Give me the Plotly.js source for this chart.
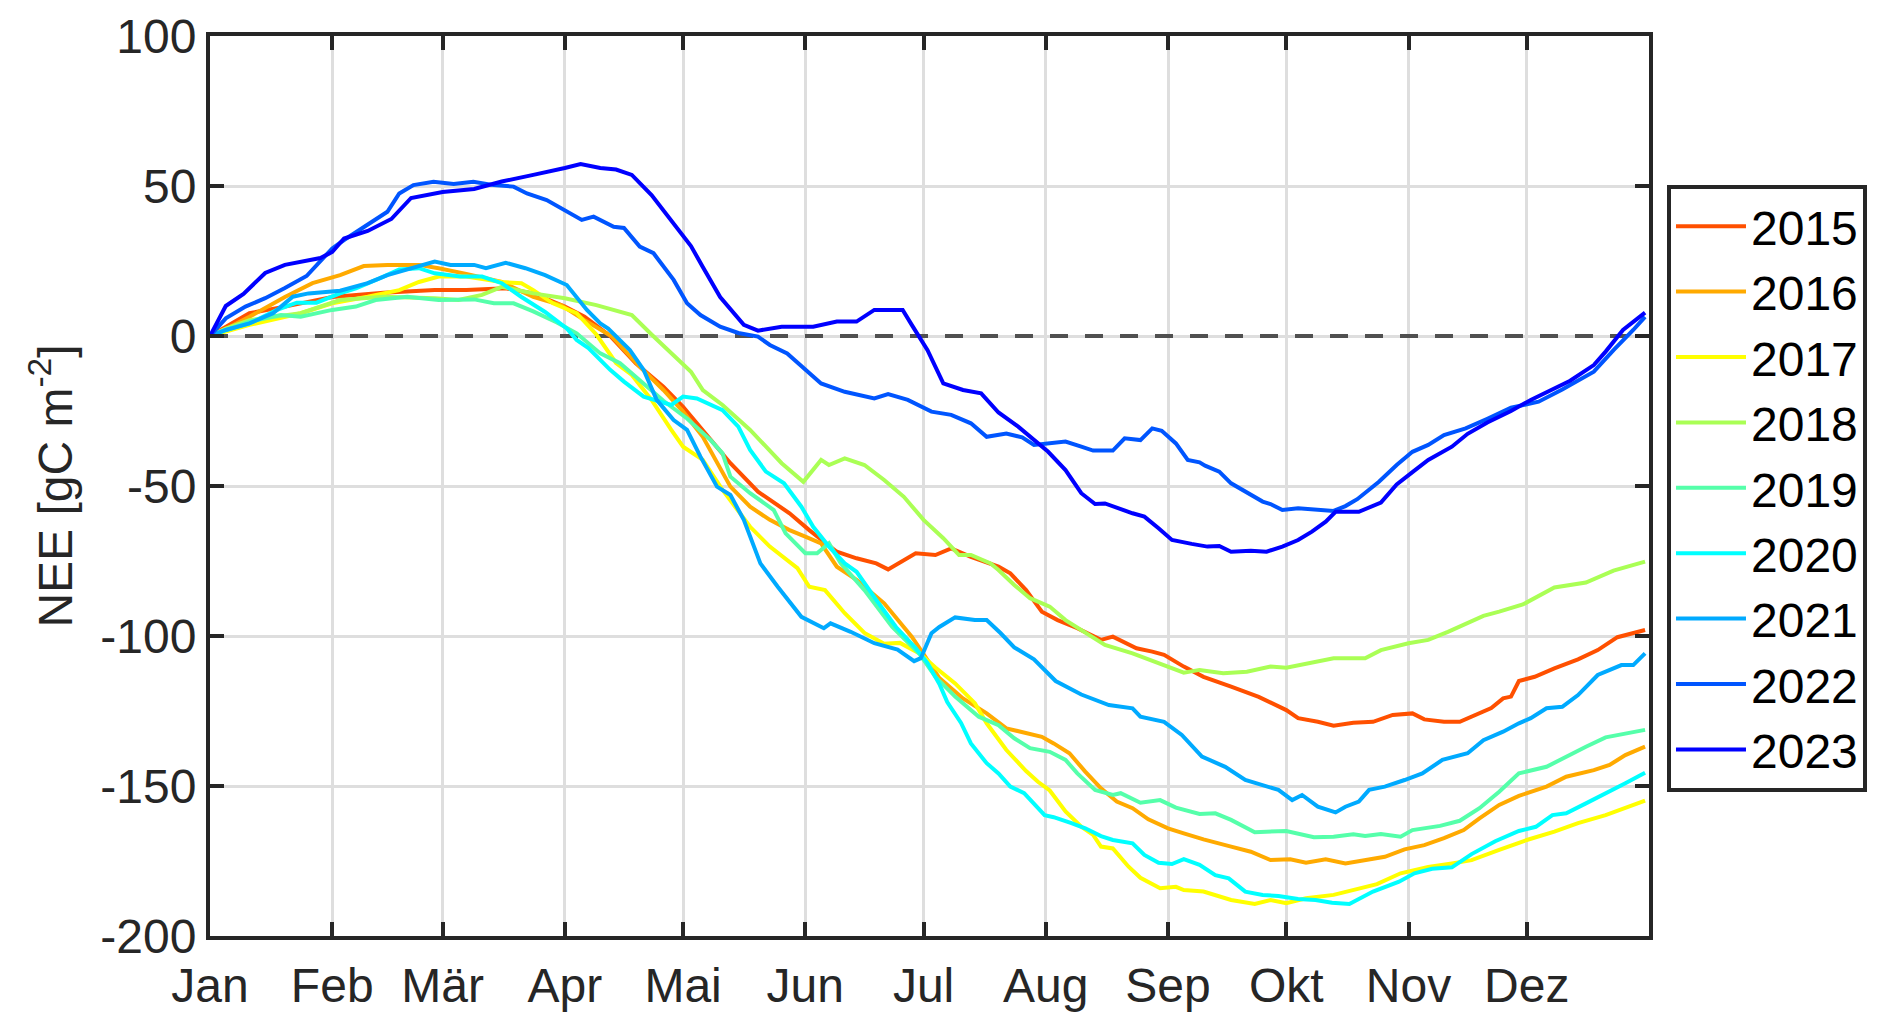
<!DOCTYPE html>
<html>
<head>
<meta charset="utf-8">
<script src="https://cdn.plot.ly/plotly-3.0.1.min.js"></script>
<style>
  html, body { margin: 0; padding: 0; background: #fff; }
  #chart { width: 1892px; height: 1034px; }
</style>
</head>
<body>
<div id="chart"></div>
<script>
// month starts as day of year (non-leap year), German labels
const monthDays = [1, 32, 60, 91, 121, 152, 182, 213, 244, 274, 305, 335];
const monthLabels = ['Jan', 'Feb', 'Mär', 'Apr', 'Mai', 'Jun', 'Jul', 'Aug', 'Sep', 'Okt', 'Nov', 'Dez'];
const neeTicks = [-200, -150, -100, -50, 0, 50, 100];
const neeTickText = ['-200', '-150', '-100', '-50', '0', '50', '100'];

const years = ['2015', '2016', '2017', '2018', '2019', '2020', '2021', '2022', '2023'];
const colors = ['#ff5000', '#ffaa00', '#ffff00', '#aaff55', '#55ffaa', '#00ffff', '#00aaff', '#0055ff', '#0000ff'];

// cumulative NEE [gC m-2]
const day2015 = [1, 5, 11, 20, 32, 45, 58, 66, 76, 83, 91, 96, 102.5, 109, 116, 121, 126, 133, 140, 148, 153, 160, 165, 170, 173, 177, 180, 185, 189, 194, 201, 204, 208, 212, 216, 221, 227, 230, 236, 240, 243, 248, 253, 260, 267, 274, 277, 282, 286, 291, 296, 301, 306, 309, 314, 318, 323, 326, 329, 331, 333, 337, 342, 348, 353, 358, 365];
const nee2015 = [0, 3, 7.6, 9.8, 13, 14.4, 15.3, 15.3, 15.9, 14.2, 9.8, 6.4, 0, -9.1, -16.9, -23.6, -31.3, -42.4, -51.9, -59.1, -64.7, -71.9, -74.1, -75.8, -77.8, -74.7, -72.4, -73, -70.8, -73.6, -76.9, -79.1, -84.7, -91.9, -94.7, -97.4, -101.3, -100.2, -104.1, -105.2, -106.3, -110.2, -113.6, -116.9, -120.3, -124.7, -127.4, -128.6, -129.9, -128.9, -128.6, -126.3, -125.8, -127.8, -128.6, -128.6, -125.8, -124, -120.8, -120.2, -115, -113.6, -110.8, -107.8, -104.7, -100.4, -98];

const day2016 = [1, 6, 11, 20, 27, 34, 40, 46, 54, 59, 66, 75, 83, 90, 96, 103, 110, 116, 121, 126, 133, 138, 143, 148, 152, 156, 160, 165, 172, 179, 182, 186, 192, 198, 203, 208, 212, 215, 219, 223, 227, 231, 235, 239, 244, 248, 253, 260, 265, 270, 275, 279, 284, 289, 294, 299, 304, 309, 314, 319, 323, 328, 333, 340, 345, 352, 356, 360, 365];
const nee2016 = [0, 3, 6.4, 13, 17.6, 20.3, 23.3, 23.7, 23.7, 22.6, 20.7, 18, 13, 10.3, 5.3, -0.2, -10.2, -18, -25.2, -33.6, -50.2, -56.9, -61.3, -64.7, -66.9, -69.1, -76.9, -81.3, -89.1, -100.2, -106, -114, -120.8, -125.8, -130.8, -132.3, -133.6, -135.8, -139.1, -145.2, -150.8, -155.2, -157.4, -161.1, -164.1, -165.8, -167.8, -170.2, -171.9, -174.7, -174.4, -175.6, -174.4, -175.8, -174.7, -173.6, -171.1, -169.7, -167.4, -164.7, -160.8, -156.3, -153.3, -150.2, -146.9, -144.7, -143, -139.7, -136.9];

const day2017 = [1, 5, 11, 24, 32, 41, 49, 54, 59, 66, 75, 80, 83, 88, 94, 99, 104, 108, 113, 118, 121, 126, 131, 138, 143, 150, 153, 157, 162, 167, 172, 176, 181, 185, 190, 195, 198, 203, 208, 211, 214, 218, 222, 225, 227, 230, 234, 237, 242, 246, 248, 253, 260, 266, 270, 274, 279, 286, 291, 297, 303, 310, 316, 321, 328, 335, 342, 348, 355, 360, 365];
const nee2017 = [0, 1.5, 3.7, 7.6, 10.9, 13.1, 15.3, 18, 19.8, 19.8, 18, 17.6, 15.3, 10.9, 7.6, 0.5, -9, -13, -21.3, -31.3, -36.9, -41.3, -51.3, -63.6, -70.2, -77.4, -83.6, -84.7, -92.4, -99, -102.6, -102.3, -105.8, -110.5, -115.8, -122.4, -129.1, -138, -145, -148.6, -151.5, -158.5, -163.6, -166.3, -170.2, -170.8, -176.9, -180.6, -184.1, -183.6, -184.7, -185.2, -188, -189.3, -188, -189.1, -187.4, -186.3, -184.7, -182.7, -179.1, -177, -175.8, -174.7, -171.3, -168, -165.2, -162.4, -159.7, -157.4, -154.9];

const day2018 = [1, 5, 11, 24, 34, 45, 58, 64, 70, 75, 83, 91, 99, 104, 108, 113, 119, 123, 126, 131, 138, 146, 151.5, 156, 158, 162, 167, 172, 177, 182, 187, 191, 194, 199, 201, 205, 209, 214, 218, 222, 228, 235, 242, 248, 252, 258, 264, 270, 274, 281, 286, 294, 298, 305, 310, 315, 321, 324, 328, 334, 342, 350, 357, 365];
const nee2018 = [0, 2.5, 5.3, 7.6, 12, 13.1, 12.6, 12, 13.7, 16.4, 14.2, 12.6, 10.3, 8.5, 7, 0.5, -6.9, -11.9, -18, -23, -31.3, -42.4, -48.6, -41.3, -43, -40.8, -43, -48, -53.6, -61.3, -67.4, -73, -73, -75.8, -78, -83, -87.4, -90.2, -94.7, -98, -103, -105.8, -109.1, -112.2, -111.3, -112.4, -111.9, -110.2, -110.6, -108.6, -107.4, -107.4, -104.7, -102.4, -101.3, -98.6, -95.2, -93.3, -91.9, -89.5, -83.8, -82.2, -78.2, -75.2];

const day2019 = [1, 5, 11, 19, 24, 32, 38, 43, 51, 59, 68, 73, 78, 83, 89, 94, 96, 100, 105, 110, 116, 122, 128, 131, 133, 138, 144, 147, 152, 155, 158, 161, 167, 174, 181, 185, 190, 196, 201, 205, 209, 214, 218, 221, 225.5, 230, 232, 237, 242, 246, 252, 256, 260, 266, 274, 281, 286, 291, 294, 298, 303, 306, 313, 318, 323, 328, 333, 340, 345, 350, 355, 360, 365];
const nee2019 = [0, 2, 4.8, 7, 6.4, 8.7, 9.8, 12, 13.1, 12, 12.2, 10.9, 10.9, 8.2, 4.5, 0.9, -1.3, -5.8, -9.1, -14.7, -21.6, -27.5, -34.7, -39.1, -46.9, -52.4, -58, -65.8, -72.4, -72.4, -69.1, -75.8, -84.7, -96.9, -106, -113.6, -120.2, -126.9, -129.7, -134.1, -137.4, -138.6, -141.3, -145.8, -151.3, -153, -152.4, -155.6, -154.7, -157.2, -159.3, -159.1, -161.3, -165.4, -165, -167.1, -166.9, -166.1, -166.7, -166, -166.9, -164.7, -163.3, -161.6, -157.4, -151.9, -145.8, -143.6, -140.2, -136.9, -133.8, -132.4, -131.3];

const day2020 = [1, 5, 11, 18, 23, 28, 34, 38, 44, 49, 54, 58, 64.5, 70, 75, 80, 86, 91.5, 94, 97, 102.5, 106, 111, 115, 118, 121, 124.5, 131, 135, 138, 142, 146.6, 151, 154, 158, 162, 165, 170, 175, 180, 183, 186, 188, 191.5, 194, 198, 201, 204, 207.5, 212.7, 215, 219.5, 223, 227, 230, 235, 238, 241.6, 245, 248, 252, 256, 259.4, 263.6, 268, 272, 277, 281.4, 285.6, 290, 296, 302.6, 306.5, 311, 316, 321, 327, 333, 337.3, 341.5, 345, 350, 356, 360, 365];
const nee2020 = [0, 2, 4.2, 8.7, 11.1, 11.1, 14.2, 15.9, 19.2, 22.2, 22.6, 20.9, 19.8, 19.8, 17.6, 13, 8, 2.5, -1.3, -4, -11.3, -15.2, -20.2, -21.9, -23, -20.2, -20.8, -24.7, -30.2, -38, -45.2, -49.1, -56.9, -63.6, -70.2, -75.8, -78.6, -88, -97, -104, -109, -116, -122, -129, -135.8, -142.4, -145.8, -150.2, -152.4, -159.7, -160.4, -162.4, -164.1, -166.7, -168, -169.1, -173, -175.6, -176, -174.4, -176.3, -179.7, -180.8, -185.2, -186.3, -186.7, -187.7, -188, -188.9, -189.3, -185.2, -181.9, -179.1, -177.6, -177.1, -172.7, -168.4, -165, -163.6, -159.7, -159.1, -155.8, -151.9, -149.1, -145.6];

const day2021 = [1, 5, 11, 17, 22, 26, 34, 41, 46, 53, 58, 62, 68, 71, 76, 81, 86, 91.5, 96.6, 100, 102, 107.5, 111, 114.3, 118.6, 122, 125.4, 129.6, 133, 136.4, 140.6, 145, 148.3, 151, 156.7, 158.4, 163.5, 169.5, 175.4, 179.6, 181.3, 184, 186, 190, 195, 198, 201.5, 205, 210, 215.5, 222, 226, 229, 235, 237, 243, 247.5, 252.6, 258.5, 263.6, 268.7, 272, 275.5, 278, 282, 286.5, 289, 292.4, 295, 299, 304, 308.5, 313.6, 320, 324, 329, 333, 336, 340, 344, 348, 353, 359, 362, 365];
const nee2021 = [0, 2, 4.2, 7.6, 13.1, 14.2, 15.1, 17.6, 20.3, 23.1, 24.8, 23.7, 23.7, 22.6, 24.4, 22.6, 20.3, 17, 8.7, 4.2, 2.5, -4.7, -11.3, -21.3, -28, -31.3, -40.2, -50.2, -53, -61.3, -75.8, -83.6, -89.1, -93.6, -97.4, -95.8, -98.6, -102.4, -104.5, -108.4, -107.4, -99.1, -97, -93.8, -94.7, -94.7, -99, -103.8, -107.8, -115, -119.5, -121.3, -123, -124.1, -126.9, -128.6, -133, -140.2, -143.6, -148, -150.2, -151.3, -154.7, -153, -156.9, -158.8, -156.9, -155.2, -151.3, -150.2, -148, -145.8, -141.3, -139.1, -134.7, -131.9, -129.1, -127.4, -124.1, -123.6, -119.7, -113, -109.7, -109.7, -105.8];

const day2022 = [1, 5, 10, 15, 20, 25.5, 30, 32, 35, 41, 46, 49, 52.6, 57.7, 62.8, 67.8, 73, 78, 81.4, 86.4, 91.5, 95.3, 98.3, 103.4, 106, 110, 113.5, 118.6, 122, 125.4, 130.4, 135, 140, 143, 147.4, 151.6, 156, 162, 169.5, 173, 178, 184, 189, 194, 198, 203, 207, 210, 214, 218, 222, 225, 230, 233, 237, 240, 242.4, 246, 249, 252, 253.4, 257, 260, 264, 268, 270, 273, 277, 282, 286, 289, 292, 297.5, 302, 306, 310, 314, 319.5, 325, 331, 338, 344, 352, 357, 362, 365];
const nee2022 = [0, 5.9, 9.8, 12.6, 16, 20, 26.4, 29.2, 32, 37, 41.4, 47.5, 50.3, 51.4, 50.7, 51.4, 50.3, 49.8, 47.5, 45.3, 41.4, 38.7, 39.8, 36.4, 36, 29.8, 27.6, 18.7, 10.9, 7, 3.1, 1, -0.2, -3, -5.8, -10.8, -15.8, -18.6, -20.8, -19.4, -21.3, -25.2, -26.3, -29.1, -33.6, -32.5, -33.8, -36.3, -35.8, -35.2, -36.9, -38.2, -38.2, -34.1, -34.7, -30.8, -31.6, -35.8, -41.3, -42.1, -43.2, -45.2, -49.1, -52.2, -55.2, -56, -58, -57.4, -58, -58.3, -56.7, -54.4, -48.6, -43, -38.6, -36.3, -33, -30.8, -27.6, -23.9, -21.9, -17.8, -11.9, -4.7, 2, 6.4];

const day2023 = [1, 5, 9.5, 15, 20, 29, 32, 35, 41, 47, 52, 58, 60, 68, 75, 83, 88, 91, 95, 100, 104, 108, 113, 116, 119.4, 123, 126, 130.4, 136.4, 140, 146, 154, 160, 165, 169.5, 176.7, 179, 183, 187, 192, 196.6, 201, 206, 211, 213.6, 218, 222, 225.5, 228, 235, 238, 241.6, 245, 250, 254, 257, 260, 265, 269, 273, 277, 280.5, 284, 286.5, 292.4, 298, 302, 306, 310, 316, 320, 325, 331, 336, 340, 346, 352, 355, 359.4, 363, 365];
const nee2023 = [0, 10, 14, 21, 23.7, 26, 28, 32.5, 35, 39, 46, 47.5, 48, 49, 51.5, 53.7, 55, 56, 57.3, 56, 55.5, 53.7, 47, 42, 36, 30, 23, 13, 3.7, 1.8, 3.1, 3.1, 4.8, 4.8, 8.7, 8.7, 3.7, -4.7, -15.8, -18, -19.1, -25.5, -30.2, -35.8, -38.6, -44.7, -52.4, -56, -55.8, -59.1, -60.2, -64.1, -68, -69.3, -70.2, -70, -71.9, -71.6, -71.9, -70.2, -68, -65.2, -61.9, -58.6, -58.6, -55.5, -49.5, -45.4, -41.3, -36.9, -32.6, -28.8, -25, -21.3, -18.6, -14.9, -9.7, -5.2, 2, 5.9, 7.8];

const dayData = [day2015, day2016, day2017, day2018, day2019, day2020, day2021, day2022, day2023];
const neeData = [nee2015, nee2016, nee2017, nee2018, nee2019, nee2020, nee2021, nee2022, nee2023];

const traces = years.map((yr, i) => ({
    x: dayData[i],
    y: neeData[i],
    mode: 'lines',
    name: yr,
    line: { color: colors[i], width: 4 }
}));

// empty trace so the overlay axis (dashed zero line) gets drawn
traces.unshift({ x: [], y: [], yaxis: 'y2', mode: 'lines', showlegend: false, hoverinfo: 'skip' });

const axisStyle = {
    showline: true,
    linewidth: 4,
    linecolor: '#262626',
    mirror: 'ticks',
    ticks: 'inside',
    ticklen: 14,
    tickwidth: 4,
    tickcolor: '#262626',
    showgrid: true,
    gridcolor: '#dedede',
    gridwidth: 3,
    zeroline: false,
    tickfont: { size: 48, color: '#262626' }
};

const layout = {
    width: 1892,
    height: 1034,
    margin: { l: 210, r: 243, t: 36, b: 98 },
    paper_bgcolor: '#fff',
    plot_bgcolor: '#fff',
    font: { family: 'Liberation Sans, Arial, sans-serif', color: '#262626' },
    showlegend: true,
    xaxis: Object.assign({}, axisStyle, {
        range: [1, 366],
        tickmode: 'array',
        tickvals: monthDays,
        ticktext: monthLabels,
        ticklabelstandoff: 4
    }),
    yaxis: Object.assign({}, axisStyle, {
        range: [-200, 100],
        tickmode: 'array',
        tickvals: neeTicks,
        ticktext: neeTickText,
        title: { text: 'NEE [gC m<sup>-2</sup>]', font: { size: 48, color: '#262626' }, standoff: 14 }
    }),
    // overlay axis only used to draw the dashed line at NEE = 0
    yaxis2: {
        overlaying: 'y',
        side: 'left',
        range: [-200, 100],
        tickmode: 'array',
        tickvals: [0],
        showticklabels: false,
        ticks: '',
        showline: false,
        zeroline: false,
        showgrid: true,
        gridcolor: '#505050',
        gridwidth: 4,
        griddash: '18px,17px'
    },
    legend: {
        x: 1.0125,
        y: 0.835,
        xanchor: 'left',
        yanchor: 'top',
        bgcolor: '#fff',
        bordercolor: '#262626',
        borderwidth: 4,
        itemwidth: 70,
        font: { size: 48, color: '#000' }
    }
};

Plotly.newPlot('chart', traces, layout, { displayModeBar: false, staticPlot: true });
</script>
</body>
</html>
